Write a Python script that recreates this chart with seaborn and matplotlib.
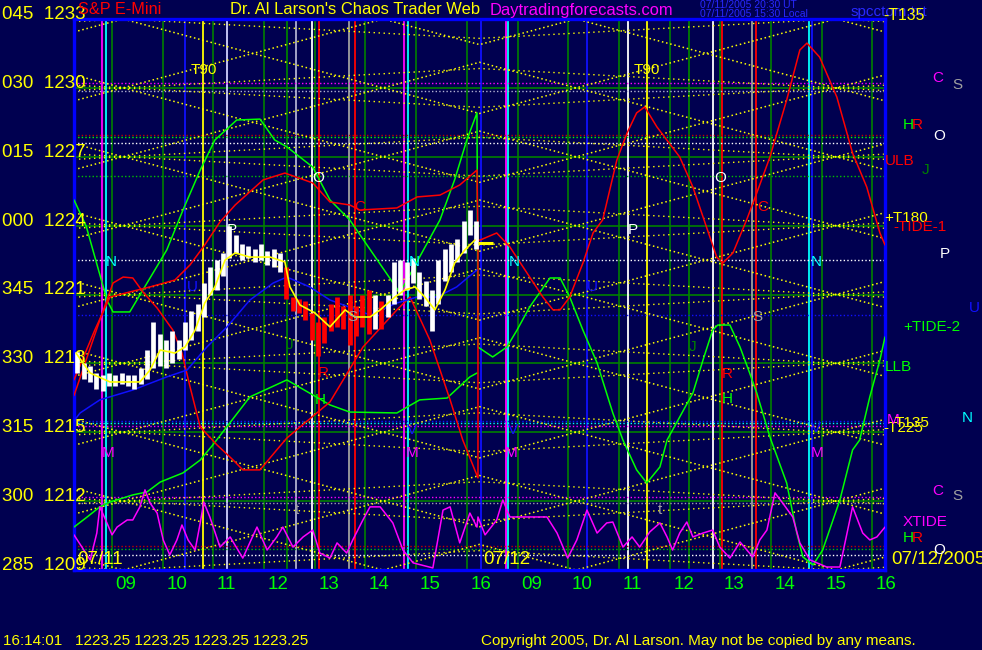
import numpy as np
import pandas as pd
import matplotlib
matplotlib.use("Agg")
import matplotlib.pyplot as plt
import seaborn as sns
from matplotlib.transforms import blended_transform_factory

# x axis: hours since 08:15 on 07/11 (0..8), 07/12 session is 8..16
# y axis: S&P E-mini price

BG = "#000050"
GRN = "#00FF00"
DGRN = "#008000"
YEL = "#FFFF00"
RED = "#FF0000"
MAG = "#FF00FF"
CYA = "#00FFFF"
BLU = "#1010FF"

# ---- price bars (7.5 minute bins, day 1) ----
bar_lo = [1217.6, 1217.3, 1217.2, 1216.9, 1216.8, 1217.0, 1217.0, 1217.1, 1217.0, 1216.9,
          1217.1, 1217.3, 1217.8, 1217.9, 1217.8, 1218.0, 1218.2, 1218.6, 1219.0, 1219.4,
          1220.0, 1221.0, 1221.2, 1221.8, 1222.6, 1222.8, 1222.5, 1222.6, 1222.4, 1222.5,
          1222.3, 1222.2, 1222.0, 1220.8, 1220.3, 1220.2, 1219.9, 1219.0, 1218.3, 1218.9,
          1219.4, 1219.6, 1219.5, 1218.8, 1219.2, 1219.6, 1219.3, 1219.5, 1219.5, 1220.0,
          1220.6, 1221.0, 1221.2, 1221.5, 1220.8, 1220.5, 1219.4, 1220.6, 1221.6, 1222.0,
          1222.4, 1222.8, 1223.6, 1223.0]
bar_hi = [1218.5, 1218.0, 1217.9, 1217.6, 1217.5, 1217.6, 1217.5, 1217.6, 1217.5, 1217.5,
          1217.8, 1218.6, 1219.8, 1219.3, 1219.0, 1219.4, 1219.0, 1219.8, 1220.3, 1220.6,
          1221.5, 1222.2, 1222.5, 1222.8, 1224.0, 1223.6, 1223.2, 1223.1, 1223.0, 1223.2,
          1222.9, 1223.0, 1222.8, 1222.2, 1220.9, 1220.8, 1220.7, 1220.2, 1219.8, 1220.0,
          1220.6, 1220.9, 1220.5, 1221.0, 1220.5, 1221.0, 1221.2, 1221.0, 1220.7, 1221.0,
          1222.4, 1222.5, 1222.4, 1222.6, 1222.0, 1221.6, 1221.2, 1222.5, 1223.0, 1223.2,
          1223.4, 1224.2, 1224.7, 1224.2]
red_bars = [33, 34, 35, 36, 37, 38, 39, 40, 41, 42, 43, 44, 45, 46, 48]
BAR_W = 0.125
last_price = 1223.25

# ---- moving average on the bars ----
ma_t = [0.04, 0.32, 0.71, 1.30, 1.50, 1.70, 1.99, 2.19, 2.39, 2.58, 2.78, 2.98, 3.18, 3.47,
        3.87, 4.16, 4.26, 4.46, 4.75, 5.05, 5.35, 5.54, 5.84, 6.04, 6.33, 6.53, 6.73, 6.92,
        7.12, 7.32, 7.51, 7.71, 7.91]
ma_p = [1218.45, 1217.58, 1217.19, 1217.19, 1217.71, 1218.58, 1218.45, 1218.71, 1219.45,
        1220.63, 1221.33, 1222.50, 1222.81, 1222.63, 1222.63, 1222.42, 1221.33, 1220.54,
        1220.20, 1219.59, 1220.33, 1220.02, 1220.02, 1220.33, 1220.89, 1221.20, 1221.33,
        1220.89, 1220.33, 1221.20, 1222.37, 1222.94, 1223.37]

# ---- forecast curves ----
g1_t = [0, 0.24, 0.65, 0.77, 1.10, 1.36, 1.83, 2.15, 2.49, 2.78, 3.21, 3.67, 3.96, 4.20,
        4.71, 5.05, 5.44, 6.43, 7.22, 7.51, 7.75, 7.95, 7.97, 8.26, 8.54, 8.74, 8.99, 9.39,
        9.59, 9.78, 10.04, 10.32, 10.63, 10.83, 11.10, 11.30, 11.56, 11.70, 12.21, 12.41,
        12.60, 12.70, 12.94, 13.14, 13.33, 13.47, 13.73, 14.06, 14.26, 14.38, 14.58, 14.77,
        15.11, 15.36, 15.50, 15.70, 15.90, 16.0]
g1_p = [1225.12, 1223.98, 1220.76, 1220.24, 1220.24, 1221.20, 1222.94, 1224.68, 1226.42,
        1227.73, 1228.60, 1228.64, 1227.73, 1227.43, 1226.55, 1225.12, 1224.25, 1221.07,
        1224.25, 1226.00, 1227.73, 1228.91, 1218.71, 1218.28, 1218.71, 1219.45, 1220.46,
        1221.72, 1221.72, 1220.89, 1219.45, 1218.02, 1215.84, 1214.66, 1213.36, 1212.79,
        1213.49, 1214.66, 1216.71, 1218.15, 1219.45, 1219.67, 1219.67, 1218.71, 1217.58,
        1216.71, 1214.79, 1212.79, 1210.61, 1209.57, 1209.22, 1209.87, 1212.05, 1214.23,
        1214.66, 1216.54, 1218.15, 1219.15]

g2_t = [0, 0.26, 0.51, 0.71, 1.16, 1.44, 1.70, 2.15, 2.49, 2.74, 3.47, 4.20, 5.05, 5.44,
        6.37, 6.82, 7.36, 7.81, 7.95]
g2_p = [1210.87, 1211.31, 1211.75, 1211.96, 1212.27, 1212.40, 1212.83, 1213.23, 1213.79,
        1214.45, 1216.54, 1217.28, 1216.19, 1215.88, 1215.84, 1216.41, 1216.49, 1217.41,
        1217.58]

ra_t = [0, 0.41, 0.71, 1.10, 1.50, 1.99, 2.29, 2.58, 2.88, 3.18, 3.73, 4.16, 4.71, 5.05,
        5.44, 5.64, 6.37, 6.77, 7.22, 7.61, 7.95, 7.97]
ra_p = [1217.28, 1219.45, 1220.89, 1221.11, 1221.33, 1221.63, 1222.29, 1223.16, 1224.16,
        1224.90, 1225.99, 1226.29, 1225.86, 1225.03, 1224.90, 1224.68, 1224.77, 1225.25,
        1225.33, 1225.77, 1226.42, 1223.37]

rb_t = [0, 0.51, 0.77, 0.97, 1.16, 1.36, 1.64, 1.95, 2.13, 2.29, 2.49, 2.82, 3.14, 3.33,
        3.67, 4.00, 4.20, 5.05, 5.70, 6.37, 6.63, 7.02, 7.42, 7.67, 7.97, 7.97, 8.01, 8.34,
        8.60, 8.99, 9.25, 9.45, 9.59, 9.78, 10.04, 10.24, 10.43, 10.71, 10.91, 11.10, 11.26,
        11.50, 11.95, 12.21, 12.41, 12.68, 12.80, 13.00, 13.27, 13.47, 13.73, 14.06, 14.32,
        14.46, 14.71, 15.05, 15.36, 15.64, 15.90, 16.0]
rb_p = [1216.60, 1219.89, 1221.50, 1221.76, 1221.72, 1221.11, 1220.41, 1219.45, 1218.45,
        1216.97, 1215.23, 1214.45, 1213.79, 1213.36, 1213.36, 1214.23, 1214.75, 1216.32,
        1218.71, 1220.33, 1220.89, 1219.02, 1216.41, 1214.66, 1213.01, 1223.37, 1223.37,
        1223.68, 1223.07, 1221.76, 1220.89, 1220.33, 1220.33, 1220.89, 1222.37, 1223.68,
        1224.25, 1226.86, 1228.03, 1228.91, 1229.17, 1228.30, 1226.99, 1225.68, 1224.38,
        1222.63, 1222.37, 1222.81, 1224.25, 1225.42, 1226.99, 1229.47, 1231.65, 1231.95,
        1231.34, 1229.60, 1227.16, 1225.68, 1223.68, 1223.16]

blue_t = [0, 0.12, 0.51, 1.16, 1.83, 2.23, 2.62, 3.02, 3.47, 3.93, 4.20, 4.65, 5.05, 5.58,
          5.84, 6.37, 6.77, 7.16, 7.55, 7.95]
blue_p = [1215.5, 1215.84, 1216.41, 1216.84, 1217.41, 1217.71, 1218.71, 1219.59, 1220.76,
          1221.50, 1221.76, 1221.33, 1220.76, 1220.33, 1220.11, 1220.63, 1220.89, 1220.89,
          1221.33, 1222.07]

xtide_t = [0, 0.32, 0.45, 0.51, 0.65, 0.75, 0.85, 1.05, 1.16, 1.30, 1.40, 1.50, 1.64, 1.76,
           1.89, 2.03, 2.13, 2.25, 2.39, 2.49, 2.56, 2.68, 2.88, 3.08, 3.33, 3.61, 3.81, 4.00,
           4.12, 4.32, 4.52, 4.71, 4.85, 5.05, 5.19, 5.38, 5.50, 5.70, 5.84, 6.04, 6.29, 6.49,
           6.69, 7.08, 7.28, 7.42, 7.61, 7.81, 7.95, 7.97, 8.11, 8.34, 8.46, 8.60, 8.99, 9.33,
           9.53, 9.74, 9.92, 10.12, 10.32, 10.51, 10.63, 10.83, 11.01, 11.16, 11.36, 11.56,
           11.70, 11.81, 11.95, 12.09, 12.21, 12.41, 12.60, 12.74, 12.94, 13.14, 13.39, 13.53,
           13.67, 13.83, 13.98, 14.18, 14.32, 14.52, 14.85, 15.11, 15.36, 15.56, 15.70, 15.84,
           16.0]
xtide_p = [1210.53, 1209.44, 1210.61, 1211.75, 1211.05, 1210.53, 1210.87, 1211.18, 1211.18,
           1211.75, 1212.49, 1211.92, 1211.48, 1210.31, 1209.66, 1210.31, 1210.96, 1210.31,
           1209.87, 1211.05, 1211.96, 1211.31, 1210.00, 1210.44, 1209.52, 1210.87, 1209.87,
           1210.44, 1210.87, 1210.00, 1210.44, 1210.74, 1209.74, 1209.52, 1210.18, 1209.74,
           1210.31, 1211.18, 1211.75, 1211.75, 1211.05, 1209.87, 1209.31, 1209.09, 1211.61,
           1211.75, 1210.18, 1211.48, 1210.87, 1211.31, 1210.53, 1211.18, 1212.05, 1211.31,
           1211.31, 1211.31, 1210.61, 1209.52, 1210.31, 1211.61, 1210.61, 1211.05, 1211.09,
           1210.00, 1210.44, 1210.00, 1210.66, 1211.05, 1210.44, 1209.87, 1210.61, 1211.09,
           1210.44, 1210.61, 1210.74, 1210.00, 1209.52, 1210.22, 1209.57, 1210.31, 1210.74,
           1212.36, 1211.92, 1211.31, 1210.18, 1209.44, 1209.13, 1209.13, 1211.75, 1210.61,
           1210.31, 1210.44, 1210.87]

# ---- time/price lattice (yellow dotted fan lines, mirrored at the day break) ----
LAT_T0 = 0.966
LAT_P0 = 1230.0
LAT_STEP = 3.0
LAT_SLOPE = 0.585
FLAT_SLOPE = 0.12

# ---- horizontal levels ----
hlines_p = [1230.2, 1229.85, 1227.95, 1227.85, 1227.6, 1226.15, 1222.5, 1220.1,
            1215.5, 1215.4, 1215.27, 1212.18, 1211.92, 1210.05, 1209.92, 1209.66]
hlines_c = [MAG, "#B0B0D0", "#C00000", GRN, "#FFFFFF", "#00C000", "#FFFFFF", BLU,
            BLU, CYA, MAG, MAG, "#A0A0B0", "#C00000", "#00C000", "#FFFFFF"]
grid_p = [1230, 1227, 1224, 1221, 1218, 1215, 1212]

# ---- vertical event lines ----
vlines_t = [0.55, 0.63, 2.19, 2.54, 3.02, 4.20, 4.38, 4.69, 4.83, 5.42, 5.54, 6.51, 6.59,
            8.03, 8.52, 8.56, 10.12, 10.93, 11.30, 12.13, 12.60, 12.78, 13.37, 13.45,
            14.50, 14.56]
vlines_c = [MAG, CYA, BLU, YEL, "#D0D0FF", DGRN, "#B0B0D0", "#FFFFFF", RED, "#A0A0A0", RED,
            MAG, CYA, BLU, MAG, CYA, BLU, "#FFFFFF", YEL, DGRN, "#FFFFFF", RED, "#A0A0A0",
            RED, CYA, BLU]

hours = [9, 10, 11, 12, 13, 14, 15, 16]
day_start = 8.25
price_labels = [("045", 1233), ("030", 1230), ("015", 1227), ("000", 1224), ("345", 1221),
                ("330", 1218), ("315", 1215), ("300", 1212), ("285", 1209)]

# letter markers inside the chart: (text, t, price, colour)
marks = [("T90", 2.56, 1230.78, YEL), ("T90", 11.30, 1230.78, YEL),
         ("O", 4.81, 1226.07, "#FFFFFF"), ("O", 12.74, 1226.07, "#FFFFFF"),
         ("C", 5.64, 1224.8, RED), ("C", 13.59, 1224.8, RED),
         ("P", 3.12, 1223.81, "#FFFFFF"), ("P", 11.03, 1223.81, "#FFFFFF"),
         ("N", 0.73, 1222.42, CYA), ("N", 6.71, 1222.42, CYA),
         ("N", 8.68, 1222.42, CYA), ("N", 14.64, 1222.42, CYA),
         ("U", 2.33, 1221.33, BLU), ("U", 10.22, 1221.33, BLU),
         ("S", 5.50, 1220.0, "#A0A0A0"), ("S", 13.49, 1220.0, "#A0A0A0"),
         ("J", 4.26, 1218.8, DGRN), ("J", 12.21, 1218.7, DGRN),
         ("R", 4.91, 1217.6, RED), ("R", 12.88, 1217.55, RED),
         ("H", 4.85, 1216.4, GRN), ("H", 12.88, 1216.45, GRN),
         ("V", 6.67, 1215.1, BLU), ("V", 8.66, 1215.1, BLU), ("V", 14.64, 1215.2, BLU),
         ("M", 0.67, 1214.1, MAG), ("M", 6.67, 1214.1, MAG),
         ("M", 8.62, 1214.1, MAG), ("M", 14.66, 1214.1, MAG),
         ("t", 4.40, 1211.6, "#A0A0A0"), ("t", 11.56, 1211.6, "#A0A0A0")]

# right margin labels: (text, x px, y px, colour)
side = [("C", 932, 78, MAG), ("S", 952, 85, "#A0A0A0"), ("H", 903, 125, GRN),
        ("R", 912, 125, RED), ("O", 933, 136, "#FFFFFF"), ("ULB", 885, 161, RED),
        ("J", 922, 170, DGRN), ("+T180", 884, 218, YEL), ("-TIDE-1", 893, 227, RED),
        ("P", 940, 254, "#FFFFFF"), ("U", 969, 308, BLU), ("+TIDE-2", 903, 327, GRN),
        ("LLB", 885, 367, GRN), ("N", 962, 418, CYA), ("-T225", 883, 428, YEL),
        ("M", 887, 420, MAG), ("T135", 895, 423, YEL),
        ("C", 932, 491, MAG), ("S", 952, 496, "#A0A0A0"), ("XTIDE", 903, 522, MAG),
        ("H", 903, 538, GRN), ("R", 912, 538, RED), ("O", 933, 550, "#FFFFFF")]

sns.set_style("dark", rc={"axes.facecolor": BG, "figure.facecolor": BG})
plt.rcParams["font.family"] = ["Liberation Sans", "DejaVu Sans"]

W, H = 982, 650
fig = plt.figure(figsize=(W / 100, H / 100), dpi=100)
ax = fig.add_axes([74 / W, 1 - 570 / H, 811 / W, 551 / H])
ax.set_facecolor(BG)
ax.set_xlim(0, 16)
ax.set_ylim(1209, 1233)

# grid levels and hour lines
for p in grid_p:
    ax.axhline(p, color=DGRN, lw=1.2, zorder=1)
hour_t = [off + h - day_start for off in (0, 8) for h in hours]
for t in hour_t:
    ax.axvline(t, color=DGRN, lw=1.2, zorder=1)
for t, c in zip(vlines_t, vlines_c):
    ax.axvline(t, color=c, lw=1.3, zorder=1)
for p, c in zip(hlines_p, hlines_c):
    ax.axhline(p, color=c, lw=1.0, ls=(0, (1, 1.6)), zorder=1)

# lattice lines
knots = np.array([0.0, 8.0, 16.0])
tm = np.where(knots <= 8, knots, 16 - knots)
for k in range(-10, 11):
    c = LAT_P0 + LAT_STEP * k
    for sgn in (1, -1):
        ax.plot(knots, c + sgn * LAT_SLOPE * (tm - LAT_T0), color=YEL, lw=1.1,
                ls=(0, (1, 1.8)), zorder=2)
        ax.plot(knots, c + sgn * FLAT_SLOPE * (tm - LAT_T0), color=YEL, lw=1.0,
                ls=(0, (1, 2.6)), zorder=2)

# curves
curves = pd.DataFrame({"t": g1_t, "p": g1_p})
sns.lineplot(data=curves, x="t", y="p", ax=ax, color=GRN, lw=1.1, sort=False,
             estimator=None, zorder=3)
sns.lineplot(x=g2_t, y=g2_p, ax=ax, color=GRN, lw=1.1, sort=False, estimator=None, zorder=3)
sns.lineplot(x=ra_t, y=ra_p, ax=ax, color=RED, lw=1.1, sort=False, estimator=None, zorder=3)
sns.lineplot(x=rb_t, y=rb_p, ax=ax, color=RED, lw=1.1, sort=False, estimator=None, zorder=3)
sns.lineplot(x=blue_t, y=blue_p, ax=ax, color=BLU, lw=1.1, sort=False, estimator=None, zorder=3)
sns.lineplot(x=xtide_t, y=xtide_p, ax=ax, color=MAG, lw=1.1, sort=False, estimator=None,
             zorder=3)

# price bars
bar_t = [BAR_W * i + BAR_W / 2 for i in range(len(bar_lo))]
bar_c = [RED if i in red_bars else "#FFFFFF" for i in range(len(bar_lo))]
ax.vlines(bar_t, bar_lo, bar_hi, colors=bar_c, lw=3.4, zorder=4)
sns.lineplot(x=ma_t, y=ma_p, ax=ax, color=YEL, lw=1.2, sort=False, estimator=None, zorder=5)
ax.hlines(last_price, 7.97, 8.27, color=YEL, lw=2.2, zorder=5)

for txt, t, p, c in marks:
    ax.text(t, p, txt, color=c, fontsize=11, ha="center", va="center", zorder=6)

# frame
for s in ax.spines.values():
    s.set_color("#0000FF")
    s.set_linewidth(2.4)
ax.set_xlabel("")
ax.set_ylabel("")
ax.set_yticks([])
ax.set_xticks(hour_t)
ax.set_xticklabels([])
ax.tick_params(axis="x", length=4, width=1, color=DGRN, direction="out")
ax.grid(False)

xb = blended_transform_factory(ax.transData, ax.transAxes)
for t, h in zip(hour_t, hours + hours):
    ax.text(t + 0.07, -0.011, f"{h:02d}", transform=xb, color=GRN, fontsize=13.5,
            ha="left", va="top")

yb = blended_transform_factory(fig.transFigure, ax.transData)
for ang, p in price_labels:
    ax.text(2 / W, p, f"{ang}  {p}", transform=yb, color=YEL, fontsize=13.5,
            ha="left", va="baseline", clip_on=False)

ax.text(0.06, 1209.25, "07/11", color=YEL, fontsize=13.5, ha="left", va="baseline", zorder=6)
ax.text(8.07, 1209.25, "07/12", color=YEL, fontsize=13.5, ha="left", va="baseline", zorder=6)
ax.text(891 / W, 1209.25, "07/12/2005", transform=yb, color=YEL, fontsize=13.5,
        ha="left", va="baseline", clip_on=False)

# header and footer
def ftext(x, y, s, color, size, **kw):
    fig.text(x / W, 1 - y / H, s, color=color, fontsize=size, ha="left", va="center", **kw)

ftext(78, 10, "S&P E-Mini", RED, 11.7)
ftext(230, 10, "Dr. Al Larson's Chaos Trader Web", YEL, 11.9)
ftext(490, 10, "Daytradingforecasts.com", MAG, 11.9)
ftext(700, 5, "07/11/2005 20:30 UT", "#2828FF", 7.5)
ftext(700, 14, "07/11/2005 15:30 Local", "#2828FF", 7.5)
ftext(851, 12, "spcctom.txt", "#2828FF", 11)
ftext(883, 15, "-T135", YEL, 11.3)
ftext(3, 641, "16:14:01   1223.25 1223.25 1223.25 1223.25", YEL, 11)
ftext(481, 641, "Copyright 2005, Dr. Al Larson. May not be copied by any means.", YEL, 11)

for txt, x, y, c in side:
    ftext(x, y, txt, c, 11)

fig.savefig("out.png", dpi=100, facecolor=BG)
